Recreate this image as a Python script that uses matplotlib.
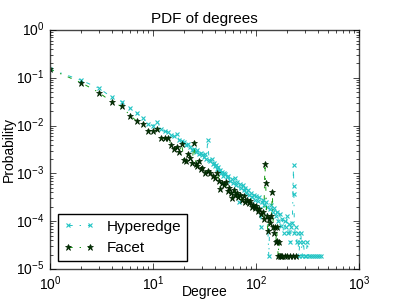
import matplotlib
matplotlib.use('Agg')
import matplotlib.pyplot as plt
import numpy as np

plt.style.use('classic')
plt.rcParams['font.family'] = ['Liberation Sans', 'DejaVu Sans']

# degree, log10(probability)
hyper_deg = [1, 2, 3, 4, 5, 6, 7, 8, 9, 10, 11, 12, 13, 14, 15, 16, 17, 18, 19, 20,
             21, 22, 23, 24, 25, 26, 27, 28, 29, 30, 31, 32, 33, 34, 35, 36, 37, 38, 39, 40,
             41, 42, 43, 44, 45, 46, 47, 48, 49, 50, 52, 54, 56, 58, 60, 62, 64, 66, 68, 70,
             72, 74, 76, 78, 80, 83, 86, 89, 92, 95, 98, 101, 104, 107, 111, 114, 117, 120, 124, 128,
             133, 137, 141, 145, 150, 155, 160, 165, 170, 175, 180, 185, 190, 195, 200, 205, 210, 215, 220, 225,
             231, 232, 233, 236, 242, 248, 254, 260, 266, 272, 280, 288, 296, 305, 315, 325, 340, 355, 370, 390,
             410, 425]
hyper_logp = [-0.82, -1.05, -1.22, -1.41, -1.50, -1.64, -1.74, -1.85, -1.97, -2.00,
              -1.92, -2.08, -2.12, -2.13, -2.20, -2.22, -2.18, -2.30, -2.33, -2.35,
              -2.40, -2.38, -2.45, -2.50, -2.48, -2.55, -2.52, -2.60, -2.58, -2.62,
              -2.66, -2.60, -2.70, -2.30, -2.72, -2.75, -2.70, -2.80, -2.78, -2.85,
              -2.82, -2.90, -2.86, -2.95, -2.92, -3.00, -2.96, -3.05, -3.00, -3.02,
              -3.08, -3.05, -3.15, -3.12, -3.20, -3.10, -3.25, -3.18, -3.59, -3.22,
              -3.30, -3.25, -3.35, -3.30, -3.40, -3.35, -3.45, -3.40, -3.50, -3.45,
              -3.55, -3.48, -3.58, -3.50, -4.11, -3.60, -3.55, -3.65, -3.60, -3.70,
              -4.73, -3.75, -3.65, -3.80, -3.72, -3.90, -3.80, -4.00, -3.85, -4.10,
              -3.95, -4.25, -4.00, -4.13, -3.90, -4.25, -4.05, -4.43, -4.13, -4.03,
              -2.83, -3.27, -3.44, -4.25, -4.13, -4.43, -4.25, -4.73, -4.43, -4.25,
              -4.73, -4.43, -4.73, -4.73, -4.43, -4.73, -4.73, -4.73, -4.73, -4.73,
              -4.73, -4.73]

facet_deg = [1, 2, 3, 4, 5, 6, 7, 8, 9, 10, 11, 12, 13, 14, 15, 16, 17, 18, 19, 20,
             21, 22, 23, 24, 25, 26, 27, 28, 29, 30, 32, 34, 36, 38, 40, 42, 44, 45, 47, 49,
             51, 53, 55, 57, 59, 61, 63, 65, 67, 70, 73, 76, 79, 82, 85, 88, 91, 94, 97, 100,
             104, 108, 112, 116, 119, 122, 124, 127, 130, 134, 138, 141, 144, 147, 150, 153, 156, 158, 161, 164,
             167, 170, 175, 180, 190, 200, 215, 228, 243]
facet_logp = [-0.82, -1.10, -1.31, -1.51, -1.60, -1.79, -1.91, -1.96, -2.11, -2.11,
              -2.08, -2.25, -2.27, -2.26, -2.40, -2.48, -2.45, -2.55, -2.39, -2.71,
              -2.74, -2.60, -2.68, -2.78, -2.36, -2.80, -2.85, -2.75, -2.90, -2.88,
              -2.99, -2.95, -2.99, -3.05, -3.10, -3.00, -3.15, -3.33, -3.20, -3.25,
              -3.18, -3.36, -3.30, -3.40, -3.52, -3.35, -3.45, -3.40, -3.50, -3.45,
              -3.55, -3.48, -3.60, -3.55, -3.62, -3.58, -3.70, -3.65, -3.72, -3.68,
              -3.78, -3.75, -3.85, -3.80, -3.95, -2.80, -3.20, -3.90, -4.20, -3.95,
              -4.03, -3.88, -3.39, -4.13, -4.25, -4.11, -4.43, -4.11, -4.41, -4.73,
              -4.43, -4.73, -4.73, -4.73, -4.73, -4.73, -4.73, -4.73, -4.73]

hyper_p = 10 ** np.array(hyper_logp)
facet_p = 10 ** np.array(facet_logp)

fig = plt.figure(figsize=(3.99, 2.99), dpi=100)
ax = fig.add_subplot(111)
ax.plot(hyper_deg, hyper_p, '-.', color='#22c4c4', marker='x', markersize=3.5,
        markeredgewidth=0.8, linewidth=0.7, label='Hyperedge')
ax.plot(facet_deg, facet_p, '-.', color='#119911', marker='*', markersize=4.5,
        markerfacecolor='#003300', markeredgecolor='#002200', linewidth=0.7, label='Facet')
ax.set_xscale('log')
ax.set_yscale('log')
ax.set_xlim(1, 1000)
ax.set_ylim(1e-5, 1)
for s in ax.spines.values():
    s.set_edgecolor('#444444')
ax.set_title('PDF of degrees', fontsize=11)
ax.set_xlabel('Degree', fontsize=10)
ax.xaxis.set_label_coords(0.5, -0.068)
ax.set_ylabel('Probability', fontsize=10, labelpad=0)
ax.tick_params(labelsize=10)
ax.legend(loc='lower left', fontsize=11, numpoints=2, handlelength=2.0)

plt.savefig('out.png', dpi=100)
